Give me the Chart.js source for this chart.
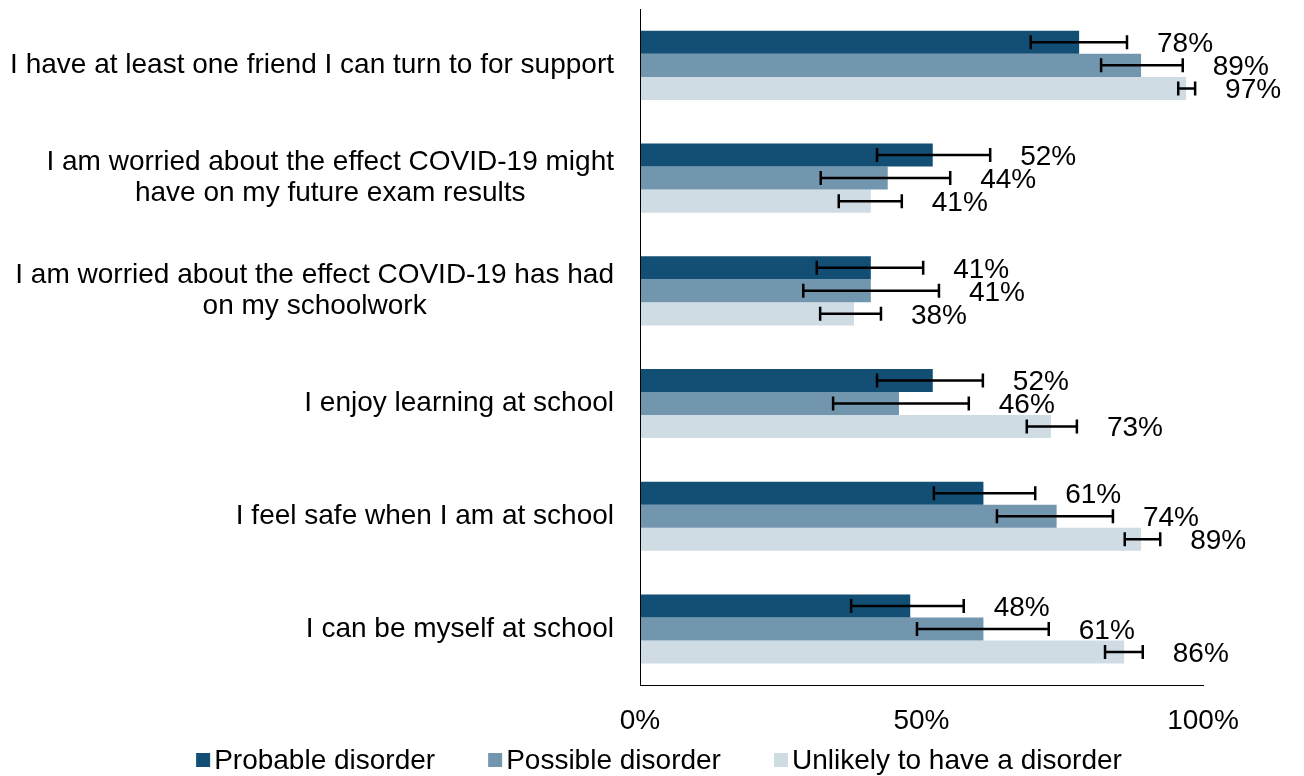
<!DOCTYPE html>
<html>
<head>
<meta charset="utf-8">
<script src="https://cdn.jsdelivr.net/npm/chart.js@4/dist/chart.umd.min.js"></script>
<style>
  html, body { margin: 0; padding: 0; background: #fff; }
  #wrap { width: 1304px; height: 776px; position: relative; }
</style>
</head>
<body>
<div id="wrap"><canvas id="chart"></canvas></div>
<script>
// Chart data
const categories = [
    ['I have at least one friend I can turn to for support'],
    ['I am worried about the effect COVID-19 might', 'have on my future exam results'],
    ['I am worried about the effect COVID-19 has had', 'on my schoolwork'],
    ['I enjoy learning at school'],
    ['I feel safe when I am at school'],
    ['I can be myself at school']
];
const seriesNames = ['Probable disorder', 'Possible disorder', 'Unlikely to have a disorder'];
const probable = [78, 52, 41, 52, 61, 48];
const possible = [89, 44, 41, 46, 74, 61];
const unlikely = [97, 41, 38, 73, 89, 86];
const probableLow  = [69.4, 42.1, 31.4, 42.1, 52.2, 37.5];
const probableHigh = [86.5, 62.2, 50.3, 60.9, 70.2, 57.5];
const possibleLow  = [81.9, 32.1, 29.0, 34.3, 63.4, 49.2];
const possibleHigh = [96.4, 55.1, 53.1, 58.4, 84.0, 72.6];
const unlikelyLow  = [95.6, 35.3, 32.0, 68.7, 86.1, 82.6];
const unlikelyHigh = [98.6, 46.5, 42.8, 77.6, 92.4, 89.3];
const xTicks = [0, 50, 100];

const colors = ['#134F74', '#7296AE', '#D0DCE4'];
const FONT = "'Liberation Sans', Arial, sans-serif";
const FS = 28;
const errLows = [probableLow, possibleLow, unlikelyLow];
const errHighs = [probableHigh, possibleHigh, unlikelyHigh];

// Error bars, data labels, category labels, legend
const overlay = {
    id: 'overlay',
    afterDatasetsDraw(chart) {
        const ctx = chart.ctx;
        const xs = chart.scales.x;
        const ys = chart.scales.y;
        ctx.save();

        // axis line on top of the bars
        ctx.strokeStyle = '#000';
        ctx.lineWidth = 1;
        ctx.beginPath();
        ctx.moveTo(xs.left + 0.5, ys.top);
        ctx.lineTo(xs.left + 0.5, ys.bottom);
        ctx.stroke();

        chart.data.datasets.forEach((ds, di) => {
            const meta = chart.getDatasetMeta(di);
            meta.data.forEach((bar, i) => {
                const y = bar.y;
                const x0 = xs.getPixelForValue(errLows[di][i]);
                const x1 = xs.getPixelForValue(errHighs[di][i]);
                ctx.strokeStyle = '#000';
                ctx.lineWidth = 2.5;
                ctx.beginPath();
                ctx.moveTo(x0, y); ctx.lineTo(x1, y);
                ctx.moveTo(x0, y - 7); ctx.lineTo(x0, y + 7);
                ctx.moveTo(x1, y - 7); ctx.lineTo(x1, y + 7);
                ctx.stroke();

                ctx.fillStyle = '#000';
                ctx.font = FS + 'px ' + FONT;
                ctx.textAlign = 'left';
                ctx.textBaseline = 'middle';
                ctx.fillText(ds.data[i] + '%', x1 + 30, y + 2);
            });
        });

        // category labels: centred lines inside a right-aligned block
        ctx.font = FS + 'px ' + FONT;
        ctx.fillStyle = '#000';
        ctx.textAlign = 'center';
        ctx.textBaseline = 'middle';
        const right = xs.left - 26;
        categories.forEach((lines, i) => {
            const cy = ys.getPixelForTick(i);
            const w = Math.max(...lines.map(l => ctx.measureText(l).width));
            const lh = 31;
            lines.forEach((l, k) => {
                ctx.fillText(l, right - w / 2, cy + (k - (lines.length - 1) / 2) * lh);
            });
        });

        // legend
        const gap = 53;
        const widths = seriesNames.map(n => 18 + ctx.measureText(n).width);
        const total = widths.reduce((a, b) => a + b, 0) + gap * (seriesNames.length - 1);
        let lx = chart.width / 2 + 7 - total / 2;
        const ly = 760;
        ctx.textAlign = 'left';
        seriesNames.forEach((n, i) => {
            ctx.fillStyle = colors[i];
            ctx.fillRect(lx, ly - 7, 14, 14);
            ctx.fillStyle = '#000';
            ctx.fillText(n, lx + 18, ly + 1);
            lx += widths[i] + gap;
        });
        ctx.restore();
    }
};

new Chart(document.getElementById('chart'), {
    type: 'bar',
    data: {
        labels: categories.map(c => c.join(' ')),
        datasets: [
            { label: seriesNames[0], data: probable, backgroundColor: colors[0] },
            { label: seriesNames[1], data: possible, backgroundColor: colors[1] },
            { label: seriesNames[2], data: unlikely, backgroundColor: colors[2] }
        ]
    },
    options: {
        indexAxis: 'y',
        responsive: true,
        maintainAspectRatio: false,
        animation: false,
        devicePixelRatio: 1,
        categoryPercentage: 0.613,
        barPercentage: 1.0,
        layout: { padding: { left: 640, right: 101, top: 9, bottom: 19 } },
        plugins: { legend: { display: false }, tooltip: { enabled: false } },
        scales: {
            x: {
                min: 0, max: 100,
                afterBuildTicks: axis => { axis.ticks = xTicks.map(v => ({ value: v })); },
                grid: { display: false, drawTicks: false },
                border: { display: true, color: '#000', width: 1 },
                ticks: {
                    padding: 19,
                    color: '#000',
                    font: { size: FS, family: FONT },
                    maxRotation: 0,
                    callback: v => v + '%'
                }
            },
            y: {
                grid: { display: false, drawTicks: false },
                border: { display: true, color: '#000', width: 1 },
                ticks: { display: false }
            }
        }
    },
    plugins: [overlay]
});
</script>
</body>
</html>
